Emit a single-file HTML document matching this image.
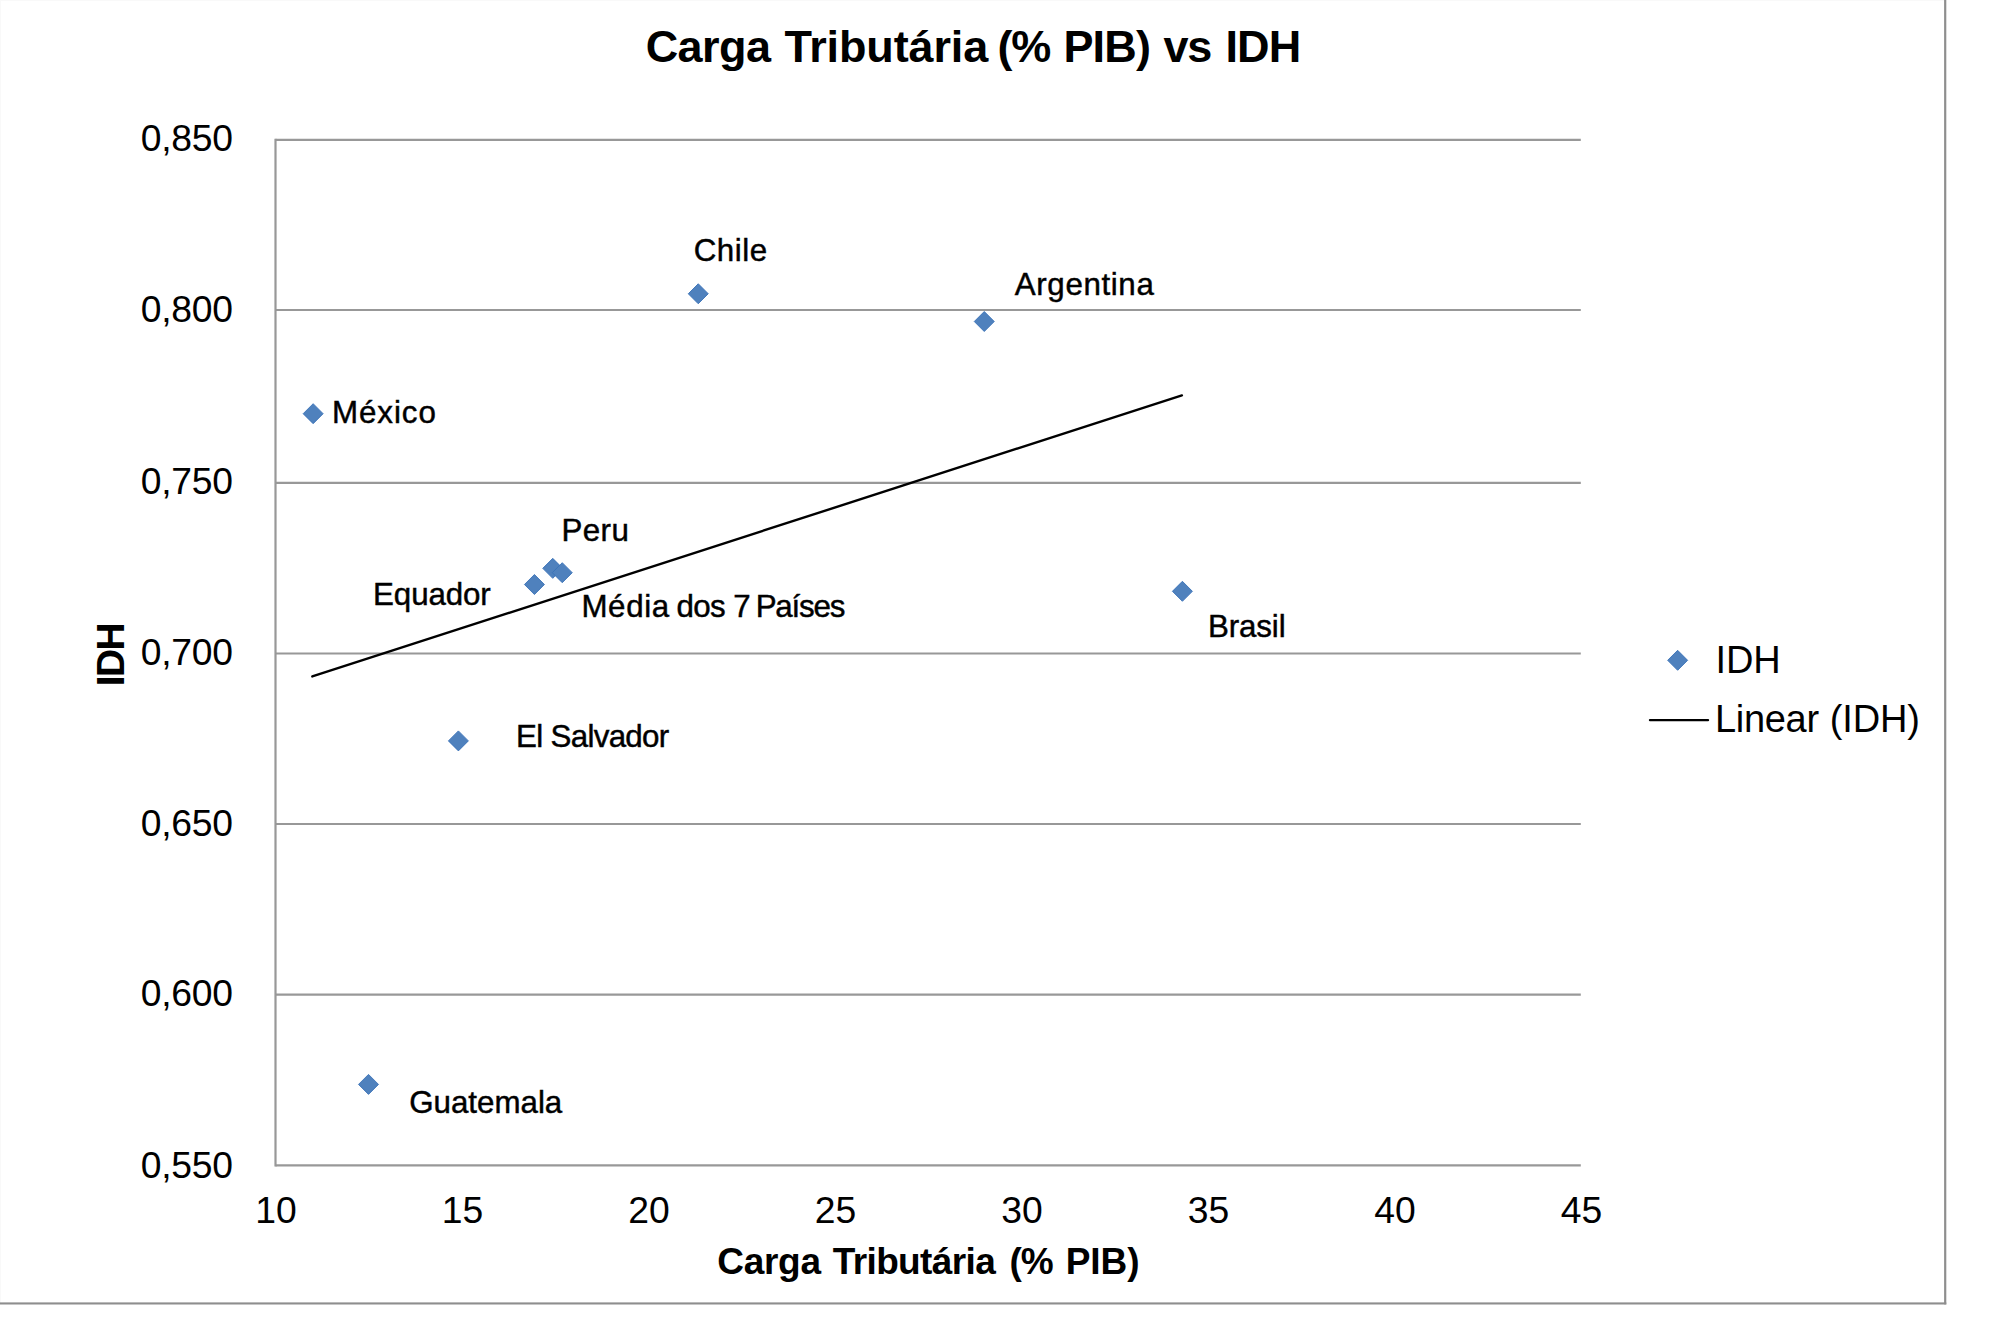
<!DOCTYPE html>
<html lang="pt"><head><meta charset="utf-8"><title>Carga Tributária (% PIB) vs IDH</title>
<style>
html,body{margin:0;padding:0;background:#fff;}
body{width:2000px;height:1326px;overflow:hidden;}
svg{display:block;}
text{font-family:"Liberation Sans",Arial,sans-serif;fill:#000;white-space:pre;}
.b{font-weight:bold;}
.d{stroke:#000;stroke-width:0.45px;}
</style></head><body>
<svg width="2000" height="1326" viewBox="0 0 2000 1326">
<rect x="0" y="0" width="2000" height="1326" fill="#fff"/>
<rect x="0" y="0" width="1945" height="1" fill="#f9f9f9"/>
<rect x="0" y="0" width="1" height="1303" fill="#f9f9f9"/>
<rect x="1944.1" y="0" width="2.2" height="1304.4" fill="#8e8e8e"/>
<rect x="0" y="1302.4" width="1946.3" height="2.1" fill="#8e8e8e"/>

<line x1="275.5" y1="139.8" x2="1580.8" y2="139.8" stroke="#989898" stroke-width="2.2"/>
<line x1="275.5" y1="310.0" x2="1580.8" y2="310.0" stroke="#989898" stroke-width="2.2"/>
<line x1="275.5" y1="482.9" x2="1580.8" y2="482.9" stroke="#989898" stroke-width="2.2"/>
<line x1="275.5" y1="653.5" x2="1580.8" y2="653.5" stroke="#989898" stroke-width="2.2"/>
<line x1="275.5" y1="824.0" x2="1580.8" y2="824.0" stroke="#989898" stroke-width="2.2"/>
<line x1="275.5" y1="994.7" x2="1580.8" y2="994.7" stroke="#989898" stroke-width="2.2"/>
<line x1="275.5" y1="1165.4" x2="1580.8" y2="1165.4" stroke="#989898" stroke-width="2.2"/>
<line x1="275.5" y1="138.70000000000002" x2="275.5" y2="1166.5" stroke="#989898" stroke-width="2.2"/>
<text x="276.1" y="1223.2" text-anchor="middle" font-size="37.3">10</text>
<text x="462.6" y="1223.2" text-anchor="middle" font-size="37.3">15</text>
<text x="649.0" y="1223.2" text-anchor="middle" font-size="37.3">20</text>
<text x="835.5" y="1223.2" text-anchor="middle" font-size="37.3">25</text>
<text x="1022.0" y="1223.2" text-anchor="middle" font-size="37.3">30</text>
<text x="1208.5" y="1223.2" text-anchor="middle" font-size="37.3">35</text>
<text x="1394.9" y="1223.2" text-anchor="middle" font-size="37.3">40</text>
<text x="1581.4" y="1223.2" text-anchor="middle" font-size="37.3">45</text>
<line x1="312.3" y1="676.4" x2="1181.9" y2="395.4" stroke="#000" stroke-width="2.4" stroke-linecap="round"/>
<path d="M303.15 413.70L313.15 403.70L323.15 413.70L313.15 423.70Z" fill="#4f81bd" stroke="#3a72b8" stroke-width="0.9"/>
<path d="M688.25 293.75L698.25 283.75L708.25 293.75L698.25 303.75Z" fill="#4f81bd" stroke="#3a72b8" stroke-width="0.9"/>
<path d="M974.25 321.50L984.25 311.50L994.25 321.50L984.25 331.50Z" fill="#4f81bd" stroke="#3a72b8" stroke-width="0.9"/>
<path d="M1172.40 591.30L1182.40 581.30L1192.40 591.30L1182.40 601.30Z" fill="#4f81bd" stroke="#3a72b8" stroke-width="0.9"/>
<path d="M524.45 584.50L534.45 574.50L544.45 584.50L534.45 594.50Z" fill="#4f81bd" stroke="#3a72b8" stroke-width="0.9"/>
<path d="M542.75 568.35L552.75 558.35L562.75 568.35L552.75 578.35Z" fill="#4f81bd" stroke="#3a72b8" stroke-width="0.9"/>
<path d="M552.25 572.70L562.25 562.70L572.25 572.70L562.25 582.70Z" fill="#4f81bd" stroke="#3a72b8" stroke-width="0.9"/>
<path d="M448.40 740.90L458.40 730.90L468.40 740.90L458.40 750.90Z" fill="#4f81bd" stroke="#3a72b8" stroke-width="0.9"/>
<path d="M358.50 1084.40L368.50 1074.40L378.50 1084.40L368.50 1094.40Z" fill="#4f81bd" stroke="#3a72b8" stroke-width="0.9"/>
<path d="M1667.65 660.30L1677.65 650.30L1687.65 660.30L1677.65 670.30Z" fill="#4f81bd" stroke="#3a72b8" stroke-width="0.9"/>
<line x1="1650" y1="720.1" x2="1708" y2="720.1" stroke="#000" stroke-width="2.4" stroke-linecap="round"/>
<text class="b" y="62.2" font-size="45"><tspan x="645.64" letter-spacing="-0.56">Carga </tspan><tspan x="784.39" letter-spacing="-0.14">Tributária </tspan><tspan x="997.55" letter-spacing="-1.20">(% </tspan><tspan x="1063.40" letter-spacing="-0.80">PIB) </tspan><tspan x="1163.43" letter-spacing="-1.20">vs </tspan><tspan x="1225.60" letter-spacing="-0.98">IDH</tspan></text>
<text class="b" y="1274.4" font-size="37.0"><tspan x="717.21" letter-spacing="-0.27">Carga </tspan><tspan x="832.75" letter-spacing="-0.62">Tributária </tspan><tspan x="1009.60" letter-spacing="-1.20">(% </tspan><tspan x="1065.70" letter-spacing="-0.05">PIB)</tspan></text>
<text y="151.0" font-size="37.3"><tspan x="140.80" letter-spacing="-0.28">0,850</tspan></text>
<text y="321.6" font-size="37.3"><tspan x="140.80" letter-spacing="-0.28">0,800</tspan></text>
<text y="493.6" font-size="37.3"><tspan x="140.80" letter-spacing="-0.28">0,750</tspan></text>
<text y="664.5" font-size="37.3"><tspan x="140.80" letter-spacing="-0.28">0,700</tspan></text>
<text y="836.2" font-size="37.3"><tspan x="140.80" letter-spacing="-0.28">0,650</tspan></text>
<text y="1006.3" font-size="37.3"><tspan x="140.80" letter-spacing="-0.28">0,600</tspan></text>
<text y="1178.0" font-size="37.3"><tspan x="140.80" letter-spacing="-0.28">0,550</tspan></text>
<text class="d" y="422.5" font-size="31.3"><tspan x="332.00" letter-spacing="0.94">México</tspan></text>
<text class="d" y="261.25" font-size="31.3"><tspan x="693.75" letter-spacing="0.51">Chile</tspan></text>
<text class="d" y="295.0" font-size="31.3"><tspan x="1014.80" letter-spacing="0.63">Argentina</tspan></text>
<text class="d" y="636.5" font-size="31.3"><tspan x="1207.90" letter-spacing="-0.10">Brasil</tspan></text>
<text class="d" y="604.9" font-size="31.3"><tspan x="373.10" letter-spacing="-0.12">Equador</tspan></text>
<text class="d" y="541.3" font-size="31.3"><tspan x="561.50" letter-spacing="0.41">Peru</tspan></text>
<text class="d" y="616.5" font-size="31.3"><tspan x="581.40" letter-spacing="0.66">Média </tspan><tspan x="676.40" letter-spacing="-0.55">dos </tspan><tspan x="733.37" letter-spacing="0.00">7 </tspan><tspan x="755.65" letter-spacing="-1.20">Países</tspan></text>
<text class="d" y="746.6" font-size="31.3"><tspan x="516.00" letter-spacing="-0.68">El Salvador</tspan></text>
<text class="d" y="1112.7" font-size="31.3"><tspan x="409.20" letter-spacing="0.00">Guatemala</tspan></text>
<text y="672.7" font-size="38"><tspan x="1715.49" letter-spacing="-0.11">IDH</tspan></text>
<text y="732.0" font-size="38"><tspan x="1715.00" letter-spacing="-0.31">Linear </tspan><tspan x="1829.70" letter-spacing="-0.11">(IDH)</tspan></text>
<text class="b" transform="translate(123.9,655.2) rotate(-90)" text-anchor="middle" font-size="38.8" letter-spacing="-1.5">IDH</text>
</svg></body></html>
